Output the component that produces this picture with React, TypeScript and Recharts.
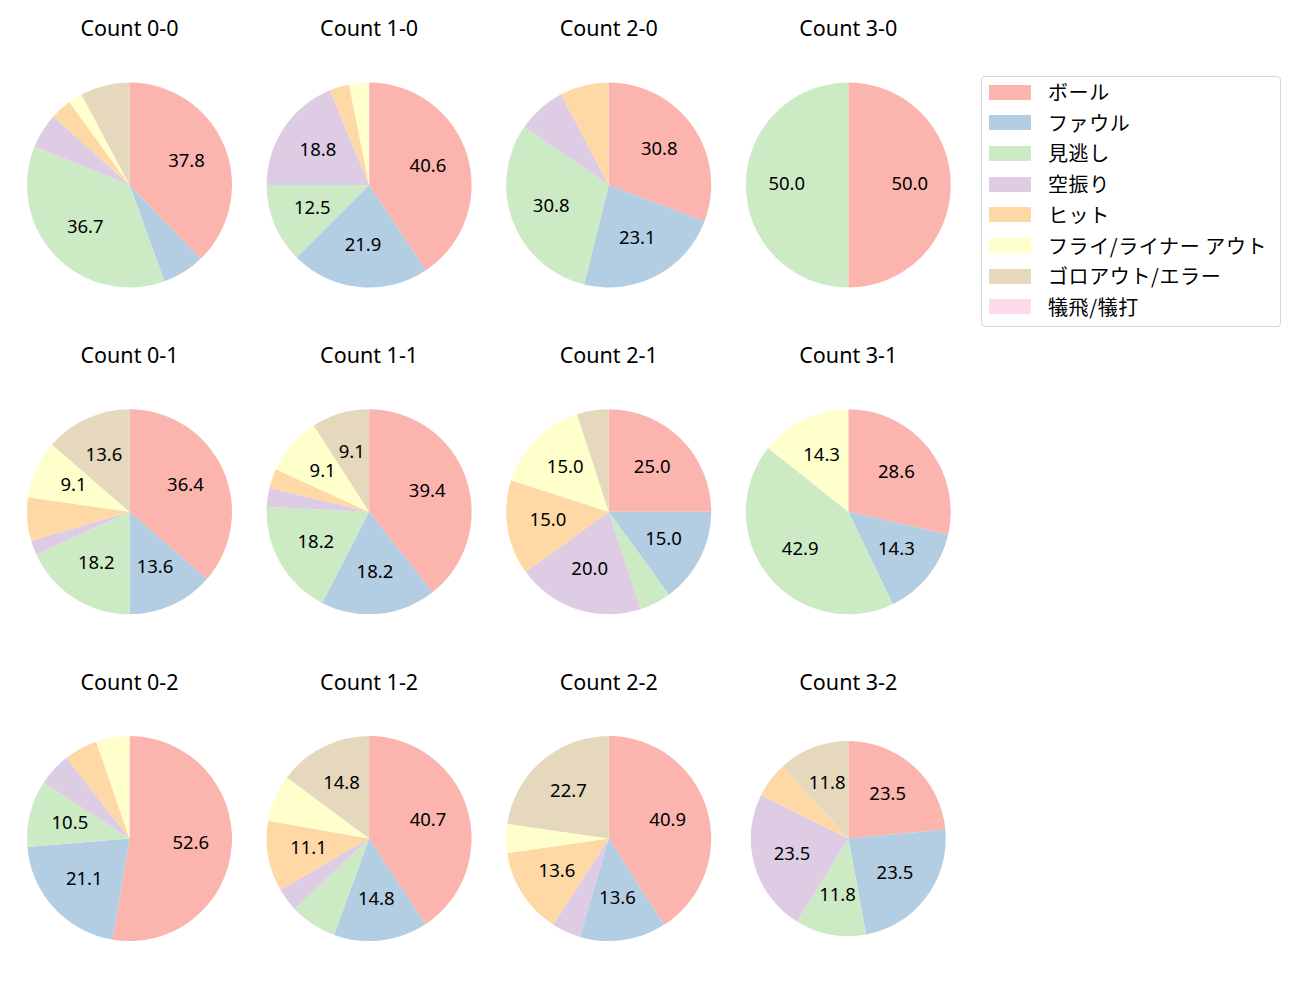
import { Cell, Pie, PieChart } from "recharts";

const categories = [
  "ボール",
  "ファウル",
  "見逃し",
  "空振り",
  "ヒット",
  "フライ/ライナー アウト",
  "ゴロアウト/エラー",
  "犠飛/犠打",
];

const colors = [
  "#fbb4ae",
  "#b3cde3",
  "#ccebc5",
  "#decbe4",
  "#fed9a6",
  "#ffffcc",
  "#e5d8bd",
  "#fddaec",
];

// pitch result counts per ball-strike count, in category order
const count00 = [34, 6, 33, 5, 3, 2, 7, 0];
const count10 = [13, 7, 4, 6, 1, 1, 0, 0];
const count20 = [4, 3, 4, 1, 1, 0, 0, 0];
const count30 = [1, 0, 1, 0, 0, 0, 0, 0];
const count01 = [16, 6, 8, 1, 3, 4, 6, 0];
const count11 = [13, 6, 6, 1, 1, 3, 3, 0];
const count21 = [5, 3, 1, 4, 3, 3, 1, 0];
const count31 = [2, 1, 3, 0, 0, 1, 0, 0];
const count02 = [10, 4, 2, 1, 1, 1, 0, 0];
const count12 = [11, 4, 2, 1, 3, 2, 4, 0];
const count22 = [9, 3, 0, 1, 3, 1, 5, 0];
const count32 = [4, 4, 2, 4, 1, 0, 2, 0];

const panels = [
  { title: "Count 0-0", values: count00 },
  { title: "Count 1-0", values: count10 },
  { title: "Count 2-0", values: count20 },
  { title: "Count 3-0", values: count30 },
  { title: "Count 0-1", values: count01 },
  { title: "Count 1-1", values: count11 },
  { title: "Count 2-1", values: count21 },
  { title: "Count 3-1", values: count31 },
  { title: "Count 0-2", values: count02 },
  { title: "Count 1-2", values: count12 },
  { title: "Count 2-2", values: count22 },
  { title: "Count 3-2", values: count32 },
];

const FONT = '"Noto Sans", "Noto Sans CJK JP", sans-serif';
const RAD = Math.PI / 180;

const colX = (i: number) => 129.5 + 239.6 * i;
const rowY = (j: number) => 185 + 326.8 * j;

function renderLabel(props: any) {
  const { cx, cy, midAngle, outerRadius, percent } = props;
  const pct = percent * 100;
  if (pct < 8) return null;
  const r = outerRadius * 0.6;
  const x = cx + r * Math.cos(-midAngle * RAD);
  const y = cy + r * Math.sin(-midAngle * RAD);
  return (
    <text
      x={x}
      y={y - 2.5}
      textAnchor="middle"
      dominantBaseline="central"
      fontSize={18.5}
      fontFamily={FONT}
      fill="#000"
    >
      {pct.toFixed(1)}
    </text>
  );
}

export default function App() {
  return (
    <div
      style={{
        position: "absolute",
        left: 0,
        top: 0,
        width: 1300,
        height: 1000,
        background: "#fff",
        fontFamily: FONT,
      }}
    >
      <PieChart
        width={1300}
        height={1000}
        margin={{ top: 0, right: 0, bottom: 0, left: 0 }}
      >
        {panels.map((p, k) => {
          const col = k % 4;
          const row = Math.floor(k / 4);
          const data = p.values
            .map((v, i) => ({ name: categories[i], value: v, idx: i }))
            .filter((d) => d.value > 0);
          return (
            <Pie
              key={p.title}
              data={data}
              dataKey="value"
              nameKey="name"
              cx={colX(col)}
              cy={rowY(row)}
              outerRadius={k === 11 ? 97.5 : 102.5}
              startAngle={90}
              endAngle={-270}
              stroke="none"
              label={renderLabel}
              labelLine={false}
              isAnimationActive={false}
            >
              {data.map((d) => (
                <Cell key={d.idx} fill={colors[d.idx]} />
              ))}
            </Pie>
          );
        })}
      </PieChart>

      {panels.map((p, k) => (
        <div
          key={p.title}
          style={{
            position: "absolute",
            left: colX(k % 4) - 100,
            top: rowY(Math.floor(k / 4)) - 157 - 15,
            width: 200,
            textAlign: "center",
            fontSize: 21.5,
            lineHeight: "30px",
            color: "#000",
          }}
        >
          {p.title}
        </div>
      ))}

      <div
        style={{
          position: "absolute",
          left: 981,
          top: 76,
          width: 298,
          height: 249,
          border: "1px solid #d6d6d6",
          borderRadius: 4,
          background: "#fff",
        }}
      >
        {categories.map((c, i) => (
          <div
            key={c}
            style={{
              position: "absolute",
              left: 0,
              top: 15 + i * 30.7 - 14,
              height: 28,
              display: "flex",
              alignItems: "center",
            }}
          >
            <div
              style={{
                marginLeft: 7,
                width: 42,
                height: 15,
                background: colors[i],
              }}
            />
            <span
              style={{
                marginLeft: 17,
                fontSize: 20,
                lineHeight: "28px",
                color: "#000",
                whiteSpace: "nowrap",
                fontFamily: '"Noto Sans CJK JP", sans-serif',
                letterSpacing: 0.6,
              }}
            >
              {c}
            </span>
          </div>
        ))}
      </div>
    </div>
  );
}
